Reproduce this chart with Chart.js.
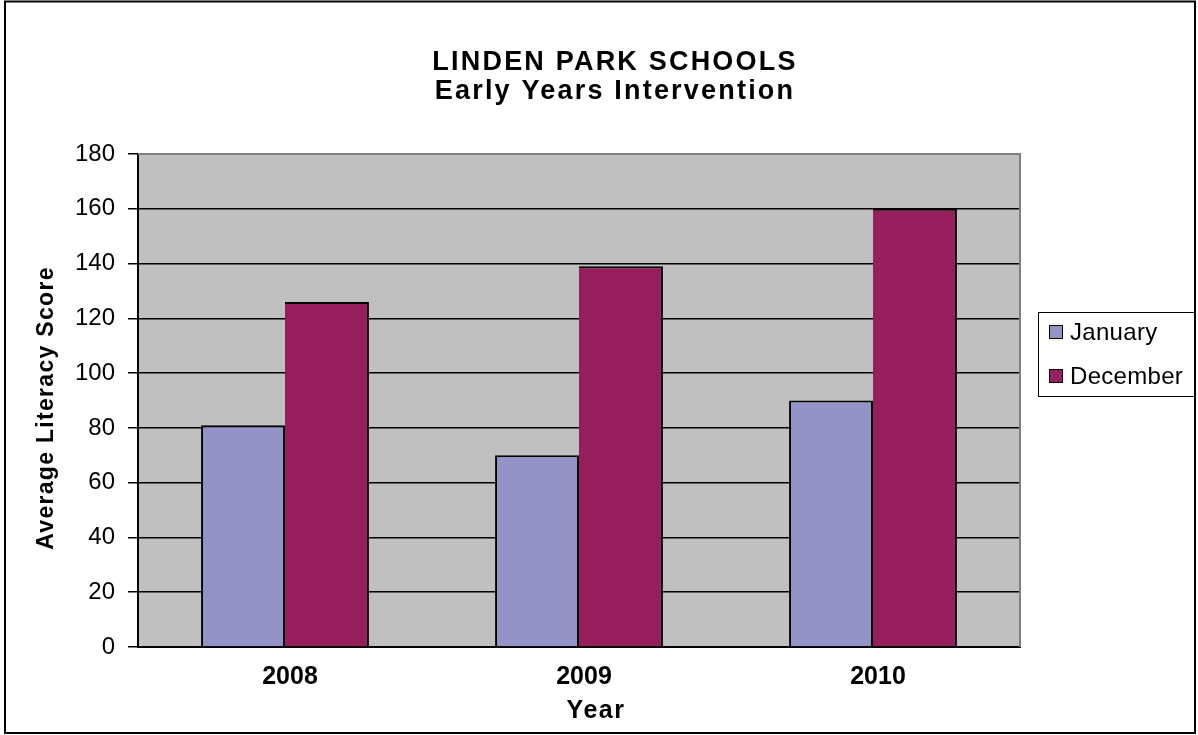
<!DOCTYPE html>
<html>
<head>
<meta charset="utf-8">
<title>Linden Park Schools</title>
<script src="https://cdn.jsdelivr.net/npm/chart.js@4/dist/chart.umd.min.js"></script>
<style>
  html, body { margin: 0; padding: 0; background: #ffffff; }
  #wrap { width: 1198px; height: 735px; position: relative; }
</style>
</head>
<body>
<div id="wrap"><canvas id="literacyChart"></canvas></div>
<script>
// data
const years = ['2008', '2009', '2010'];
const january = [81, 70, 90];
const december = [126, 139, 160];
const seriesNames = ['January', 'December'];
const titleLines = ['LINDEN PARK SCHOOLS', 'Early Years Intervention'];
const yTitle = 'Average Literacy Score';
const xTitle = 'Year';

const janColor = '#9393C8';
const decColor = '#961E5D';
const FONT = '"Liberation Sans", Arial, sans-serif';

// draws grey plot background, frame, titles and legend (Excel look)
const excelFrame = {
    id: 'excelFrame',
    beforeDraw(chart) {
        const { ctx, chartArea: a } = chart;
        ctx.save();
        ctx.fillStyle = '#fff';
        ctx.fillRect(0, 0, chart.width, chart.height);
        ctx.fillStyle = '#C0C0C0';
        ctx.fillRect(a.left, a.top, a.right - a.left, a.bottom - a.top);
        ctx.restore();
    },
    afterDraw(chart) {
        const { ctx, chartArea: a } = chart;
        ctx.save();

        // grey plot border top and right
        ctx.strokeStyle = '#808080';
        ctx.lineWidth = 2;
        ctx.beginPath();
        ctx.moveTo(a.left, a.top);
        ctx.lineTo(a.right, a.top);
        ctx.lineTo(a.right, a.bottom);
        ctx.stroke();

        // outer chart border
        ctx.strokeStyle = '#000';
        ctx.lineWidth = 2;
        ctx.strokeRect(5, 1.5, 1190, 731.5);

        // title
        ctx.fillStyle = '#000';
        ctx.textAlign = 'center';
        ctx.textBaseline = 'alphabetic';
        ctx.font = 'bold 27px ' + FONT;
        ctx.letterSpacing = '2.2px';
        ctx.fillText(titleLines[0], 615, 70);
        ctx.fillText(titleLines[1], 615, 99);

        // axis titles
        ctx.font = 'bold 25px ' + FONT;
        ctx.letterSpacing = '1.5px';
        ctx.fillText(xTitle, 596, 718);

        ctx.save();
        ctx.translate(53, 408);
        ctx.rotate(-Math.PI / 2);
        ctx.font = 'bold 23px ' + FONT;
        ctx.letterSpacing = '1.3px';
        ctx.fillText(yTitle, 0, 0);
        ctx.restore();

        // legend
        ctx.letterSpacing = '0px';
        ctx.lineWidth = 1;
        ctx.strokeStyle = '#000';
        ctx.strokeRect(1038.5, 312.5, 156, 84);
        const rows = [332, 376];
        chart.data.datasets.forEach((ds, i) => {
            ctx.fillStyle = ds.backgroundColor;
            ctx.fillRect(1049, rows[i] - 7, 14, 14);
            ctx.strokeRect(1049.5, rows[i] - 6.5, 13, 13);
            ctx.fillStyle = '#000';
            ctx.textAlign = 'left';
            ctx.textBaseline = 'middle';
            ctx.font = '24px ' + FONT;
            ctx.letterSpacing = '0.3px';
            ctx.fillText(ds.label, 1070, rows[i] + 1);
        });
        ctx.restore();
    }
};

const ctx = document.getElementById('literacyChart').getContext('2d');

const data = {
    labels: years,
    datasets: [
        {
            label: seriesNames[0],
            data: january,
            backgroundColor: janColor,
            borderColor: '#000',
            borderWidth: { left: 2, top: 2, right: 2, bottom: 0 },
            borderSkipped: false
        },
        {
            label: seriesNames[1],
            data: december,
            backgroundColor: decColor,
            borderColor: '#000',
            borderWidth: { left: 0, top: 2, right: 2, bottom: 0 },
            borderSkipped: false
        }
    ]
};

const config = {
    type: 'bar',
    data: data,
    options: {
        responsive: true,
        maintainAspectRatio: false,
        animation: false,
        devicePixelRatio: 1,
        layout: { padding: { top: 154, right: 178, bottom: 0, left: 0 } },
        datasets: {
            bar: { categoryPercentage: 0.571, barPercentage: 1.0 }
        },
        plugins: {
            legend: { display: false },
            title: { display: false },
            tooltip: { enabled: false }
        },
        scales: {
            x: {
                grid: { display: false, drawTicks: false },
                border: { color: '#000', width: 2 },
                ticks: {
                    color: '#000',
                    font: { family: FONT, size: 25, weight: 'bold' },
                    padding: 15,
                    labelOffset: 5
                },
                afterFit(scale) { scale.height = 88; }
            },
            y: {
                min: 0,
                max: 180,
                grid: {
                    color: (c) => (c.tick && c.tick.value === 180 ? '#808080' : '#000'),
                    lineWidth: 1.5,
                    drawTicks: true,
                    tickLength: 10,
                    tickColor: '#000'
                },
                border: { color: '#000', width: 2 },
                ticks: {
                    stepSize: 20,
                    color: '#000',
                    padding: 13,
                    font: { family: FONT, size: 24 }
                },
                afterFit(scale) { scale.width = 138; }
            }
        }
    },
    plugins: [excelFrame]
};

new Chart(ctx, config);
</script>
</body>
</html>
